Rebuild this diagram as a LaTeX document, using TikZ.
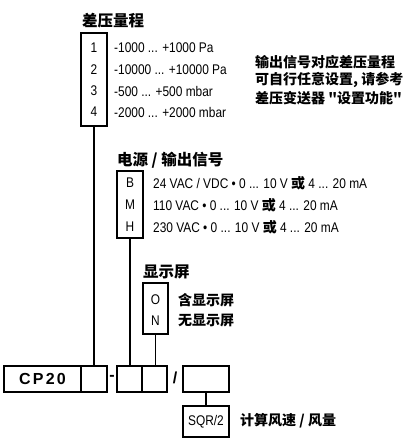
\documentclass[tikz,border=0pt]{standalone}
\usepackage{fontspec}
\setmainfont{Liberation Sans}
\newfontfamily\narrow{Liberation Sans}[FakeStretch=0.85]
\newfontfamily\cjk{Noto Sans CJK SC}
\begin{document}
\begin{tikzpicture}[x=1pt,y=-1pt,
  box/.style={draw,line width=1.4pt,inner sep=0pt,minimum width=#1},
  lbl/.style={anchor=west,inner sep=0pt,font=\fontsize{14}{16}\narrow},
  code/.style={inner sep=0pt,font=\fontsize{14}{16}\narrow},
  ttl/.style={anchor=west,inner sep=0pt,font=\fontsize{15.5}{18}\selectfont\cjk\bfseries},
  cn/.style={anchor=west,inner sep=0pt,font=\fontsize{14}{16}\selectfont\cjk\bfseries},
  conn/.style={line width=1.4pt}]
\useasboundingbox (0,0) rectangle (417,444);
% range box
\node[ttl] (tA) at (82,21) {差压量程};
\node[box=26pt,minimum height=93pt] (A) at (94,79.5) {};
\node[code] (a1) at (94,48) {1};
\node[code] (a2) at (94,70) {2};
\node[code] (a3) at (94,91) {3};
\node[code] (a4) at (94,112) {4};
\node[lbl] (r1) at (114,48) {-1000 ... +1000 Pa};
\node[lbl] (r2) at (114,70) {-10000 ... +10000 Pa};
\node[lbl] (r3) at (114,91) {-500 ... +500 mbar};
\node[lbl] (r4) at (114,112) {-2000 ... +2000 mbar};
\node[cn] (n1) at (255,62) {输出信号对应差压量程};
\node[cn] (n2) at (255,80) {可自行任意设置, 请参考};
\node[cn] (n3) at (255,98) {差压变送器 "设置功能"};
% power box
\node[ttl] (tB) at (117,160) {电源 / 输出信号};
\node[box=26pt,minimum height=67pt] (B) at (130,204.5) {};
\node[code] (bB) at (130,183) {B};
\node[code] (bM) at (130,205) {M};
\node[code] (bH) at (130,227) {H};
\node[lbl] (p1) at (153,183) {24 VAC / VDC • 0 ... 10 V {\cjk\bfseries 或} 4 ... 20 mA};
\node[lbl] (p2) at (153,205) {110 VAC • 0 ... 10 V {\cjk\bfseries 或} 4 ... 20 mA};
\node[lbl] (p3) at (153,227) {230 VAC • 0 ... 10 V {\cjk\bfseries 或} 4 ... 20 mA};
% display box
\node[ttl] (tC) at (143,272) {显示屏};
\node[box=25pt,minimum height=51pt] (C) at (155.5,308.5) {};
\node[code] (cO) at (155.5,300) {O};
\node[code] (cN) at (155.5,321) {N};
\node[cn] (d1) at (178,300) {含显示屏};
\node[cn] (d2) at (178,321) {无显示屏};
% bottom row
\node[box=77pt,minimum height=26pt,font=\fontsize{16}{18}\selectfont\bfseries\addfontfeature{LetterSpace=14}] (b0) at (42.5,379) {CP20};
\node[box=26pt,minimum height=26pt] (b1) at (94,379) {};
\node[inner sep=0pt,font=\fontsize{16}{18}\selectfont\bfseries] (dash) at (112,378) {-};
\node[box=25pt,minimum height=26pt] (b2) at (129.5,379) {};
\node[box=25pt,minimum height=26pt] (b3) at (154.5,379) {};
\node[inner sep=0pt,font=\fontsize{16}{18}\selectfont\bfseries] (slash) at (175,378) {/};
\node[box=46pt,minimum height=26pt] (b4) at (206,379) {};
\node[box=46pt,minimum height=31pt,font=\fontsize{14}{16}\narrow] (S) at (206,421.5) {SQR/2};
\node[cn] (s1) at (240,421) {计算风速 / 风量};
% connectors
\draw[conn] (A.south) -- (b1.north);
\draw[conn] (B.south) -- (B.south |- b2.north);
\draw[conn] (C.south) -- (C.south |- b3.north);
\draw[conn] (b4.south) -- (S.north);
\end{tikzpicture}
\end{document}
